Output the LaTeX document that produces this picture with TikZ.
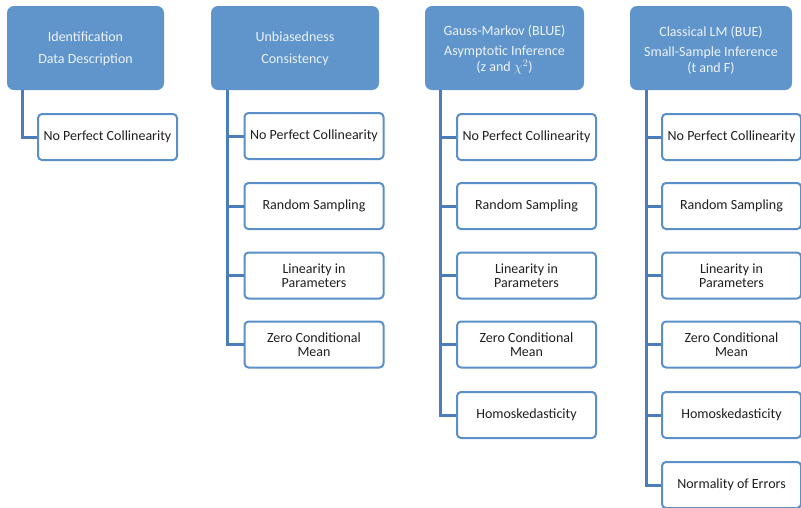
\documentclass[tikz,border=0pt]{standalone}
\usepackage{fontspec}
\setmainfont{Carlito}
\definecolor{hdrfill}{HTML}{5F95CA}
\definecolor{hdrtext}{HTML}{EEF3FA}
\definecolor{boxline}{HTML}{5A8FC8}
\definecolor{conn}{HTML}{4A7DBA}
\begin{document}
\begin{tikzpicture}[x=1pt,y=-1pt,
  hdr/.style={draw=none,fill=hdrfill,rounded corners=7pt,inner sep=0pt,minimum height=84pt},
  hdrtxt/.style={text=hdrtext,align=center,font=\fontsize{14}{22}\selectfont,inner sep=0pt},
  leaf/.style={draw=boxline,line width=2pt,fill=white,rounded corners=4pt,align=center,
    font=\fontsize{14}{14}\selectfont,inner sep=0pt,minimum width=139pt,minimum height=46pt,text=black!88},
  link/.style={draw=conn,line width=3pt}]
\useasboundingbox (0,0) rectangle (801,507);
% headers
\node[hdr,minimum width=157pt] (h1) at (85.5,48) {};
\node[hdr,minimum width=168pt] (h2) at (295,48) {};
\node[hdr,minimum width=159pt] (h3) at (504.5,48) {};
\node[hdr,minimum width=162pt] (h4) at (711,48) {};
\node[hdrtxt] (t1) at (85.5,49) {Identification\\Data Description};
\node[hdrtxt] (t2) at (295,49) {Unbiasedness\\Consistency};
\node[hdrtxt] (t3) at (504.5,50) {Gauss-Markov (BLUE)\\[-2pt]Asymptotic Inference\\[-6pt](z and $\chi^2$)};
\node[hdrtxt] (t4) at (711,50) {Classical LM (BUE)\\[-2pt]Small-Sample Inference\\[-6pt](t and F)};
% vertical line anchors
\coordinate (v1) at (22,90);
\coordinate (v2) at (227,90);
\coordinate (v3) at (440,90);
\coordinate (v4) at (646,90);
% col 1
\node[leaf] (a1) at (107.5,137) {No Perfect Collinearity};
% col 2
\node[leaf] (b1) at (314,136) {No Perfect Collinearity};
\node[leaf] (b2) at (314,206) {Random Sampling};
\node[leaf] (b3) at (314,275.5) {Linearity in\\Parameters};
\node[leaf] (b4) at (314,344.5) {Zero Conditional\\Mean};
% col 3
\node[leaf] (c1) at (526.5,137) {No Perfect Collinearity};
\node[leaf] (c2) at (526.5,206) {Random Sampling};
\node[leaf] (c3) at (526.5,275.5) {Linearity in\\Parameters};
\node[leaf] (c4) at (526.5,344.5) {Zero Conditional\\Mean};
\node[leaf] (c5) at (526.5,415) {Homoskedasticity};
% col 4
\node[leaf] (d1) at (731.5,137) {No Perfect Collinearity};
\node[leaf] (d2) at (731.5,206) {Random Sampling};
\node[leaf] (d3) at (731.5,275.5) {Linearity in\\Parameters};
\node[leaf] (d4) at (731.5,344.5) {Zero Conditional\\Mean};
\node[leaf] (d5) at (731.5,415) {Homoskedasticity};
\node[leaf] (d6) at (731.5,485) {Normality of Errors};
% connectors
\draw[link] (v1) |- (a1.west);
\foreach \n in {b1,b2,b3,b4} \draw[link] (v2) |- (\n.west);
\foreach \n in {c1,c2,c3,c4,c5} \draw[link] (v3) |- (\n.west);
\foreach \n in {d1,d2,d3,d4,d5,d6} \draw[link] (v4) |- (\n.west);
\end{tikzpicture}
\end{document}
